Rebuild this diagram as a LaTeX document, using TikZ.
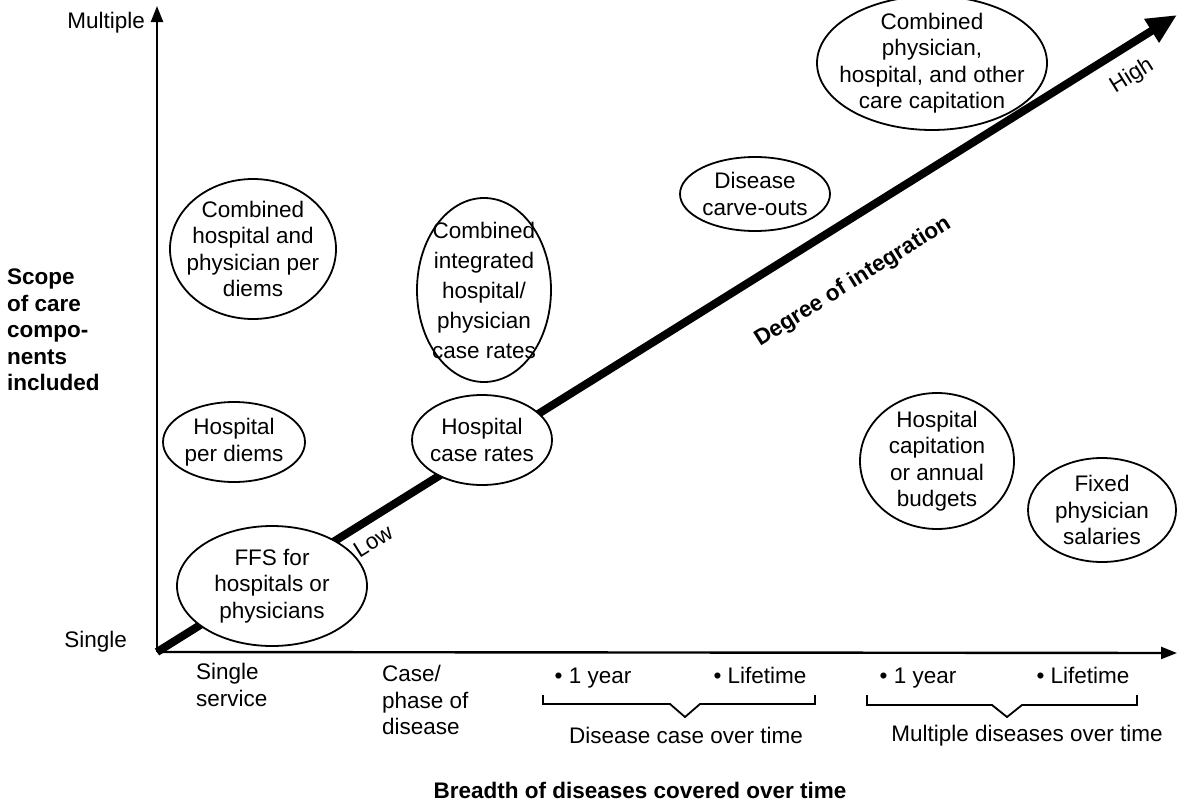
\documentclass[tikz,border=0pt]{standalone}
\usepackage{fontspec}
\setmainfont{Liberation Sans}
\usetikzlibrary{arrows.meta,shapes.geometric}

\begin{document}
\begin{tikzpicture}[x=1pt, y=-1pt, inner sep=0pt,
  font=\fontsize{22.5}{26.5}\selectfont,
  blob/.style={ellipse, draw, line width=1.8pt, fill=white, inner sep=-20pt, align=center},
  axis/.style={line width=2.4pt, -{Triangle[length=16pt,width=12pt]}},
  trend/.style={line width=8pt, -{Triangle[length=30pt,width=26pt]}},
  brace/.style={line width=1.8pt},
  heading/.style={font=\fontsize{22.5}{26.5}\selectfont\bfseries}]
  \useasboundingbox (0,0) rectangle (1178,803);
  \coordinate (o) at (157,652);
  \coordinate (ytop) at (157,6);
  \coordinate (xend) at (1177,653);
  \coordinate (hightip) at (1177,15);
  \draw[axis] (o) -- (ytop);
  \draw[axis] (o) -- (xend);
  \draw[trend] (o) -- (hightip);

  \node[blob, minimum width=166, minimum height=140] (combdiem) at (253,249) {Combined\\hospital and\\physician per\\diems};
  \node[blob, minimum width=142, minimum height=80] (hospdiem) at (234,442) {Hospital\\per diems};
  \node[blob, minimum width=190, minimum height=120] (ffs) at (272,586) {FFS for\\hospitals or\\physicians};
  \node[blob, minimum width=140, minimum height=90] (caserate) at (482,440) {Hospital\\case rates};
  \node[blob, minimum width=134, minimum height=184, font=\fontsize{22.5}{30}\selectfont] (combcase) at (484,290) {Combined\\integrated\\hospital/\\physician\\case rates};
  \node[blob, minimum width=150, minimum height=74] (carveout) at (755,194) {Disease\\carve-outs};
  \node[blob, minimum width=230, minimum height=134] (combcap) at (932,63) {Combined\\physician,\\hospital, and other\\care capitation};
  \node[blob, minimum width=154, minimum height=136] (hospcap) at (937,461) {Hospital\\capitation\\or annual\\budgets};
  \node[blob, minimum width=148, minimum height=104] (salary) at (1102,510) {Fixed\\physician\\salaries};

  \node[rotate=32] (low) at (373,541) {Low};
  \node[rotate=32] (high) at (1132,76) {High};
  \node[heading, rotate=32] (degree) at (853,282) {Degree of integration};

  \node[anchor=east] (multiple) at (145,23) {Multiple};
  \node[anchor=east] (single) at (127,642) {Single};
  \node[heading, anchor=west, align=left] (scope) at (7,330) {Scope\\of care\\compo-\\nents\\included};

  \node[anchor=west, align=left] (service) at (196,685) {Single\\service};
  \node[anchor=west, align=left] (phase) at (382,700) {Case/\\phase of\\disease};
  \node[anchor=base] (yearA) at (593,683) {• 1 year};
  \node[anchor=base] (lifeA) at (760,683) {• Lifetime};
  \node[anchor=base] (yearB) at (918,683) {• 1 year};
  \node[anchor=base] (lifeB) at (1083,683) {• Lifetime};
  \draw[brace] (543,695) -- (543,704) -- (670,704) -- (685,717) -- (700,704) -- (815,704) -- (815,695);
  \draw[brace] (867,695) -- (867,705) -- (992,705) -- (1007,717) -- (1022,705) -- (1137,705) -- (1137,695);
  \node[anchor=base] (caseover) at (686,743) {Disease case over time};
  \node[anchor=base] (multiover) at (1027,741) {Multiple diseases over time};
  \node[heading, anchor=base] (breadth) at (640,798) {Breadth of diseases covered over time};
\end{tikzpicture}
\end{document}
